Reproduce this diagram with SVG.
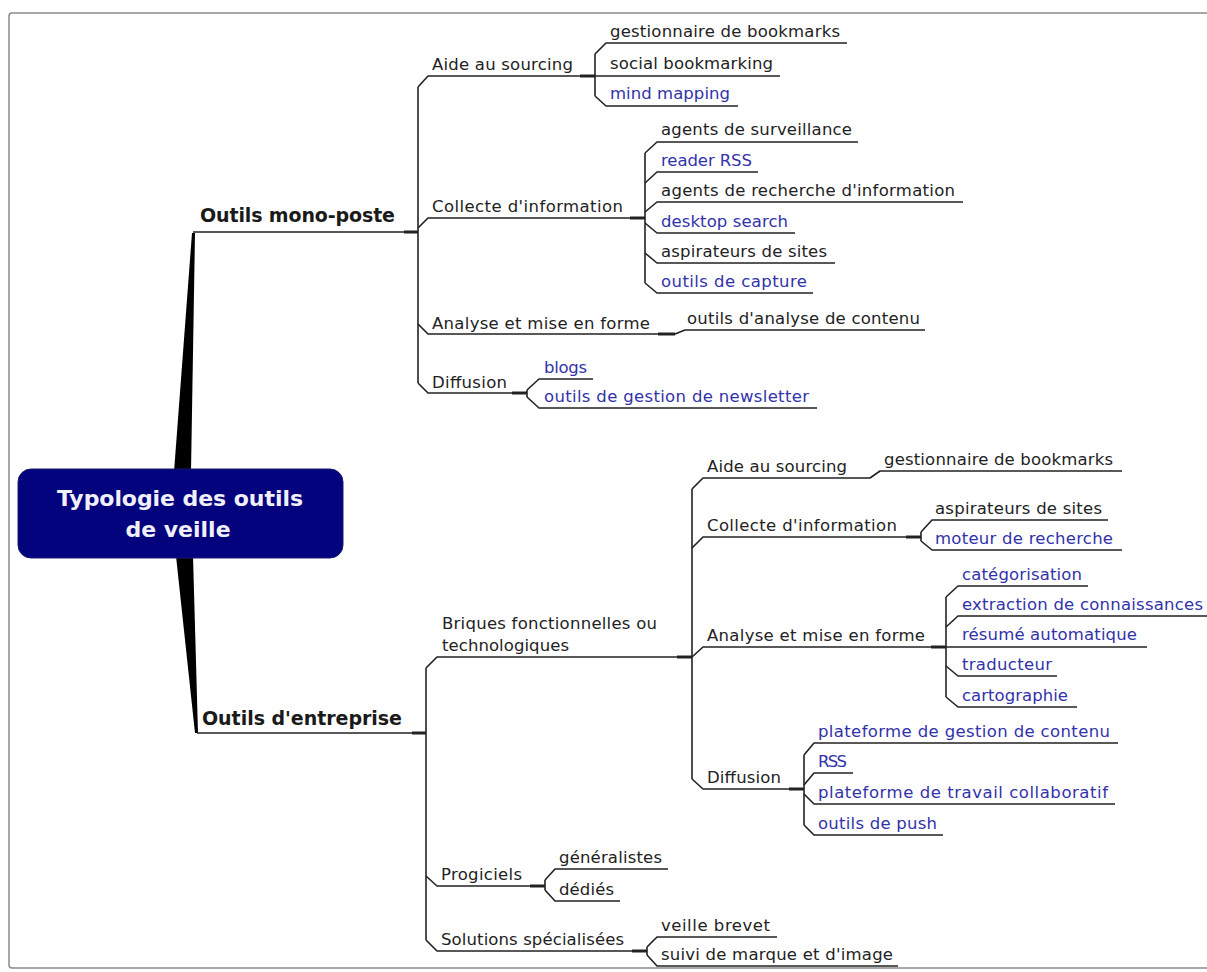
<svg xmlns="http://www.w3.org/2000/svg" width="1207" height="972" viewBox="0 0 1207 972">
<style>
.t{font-family:"DejaVu Sans","Liberation Sans",sans-serif;font-size:16.5px;fill:#222}
.b{fill:#3232aa}
.big{font-family:"DejaVu Sans","Liberation Sans",sans-serif;font-size:19px;font-weight:bold;fill:#1a1a1a}
.root{font-family:"DejaVu Sans","Liberation Sans",sans-serif;font-size:22px;font-weight:bold;fill:#f0f0f8}
.ln{fill:none;stroke:#222;stroke-width:1.6;stroke-linejoin:round}
.stub{fill:none;stroke:#222;stroke-width:3}
</style>
<rect x="9" y="13" width="1210" height="955" rx="3" fill="#fff" stroke="#8a8a8a" stroke-width="1.5"/>
<g id="connectors">
<polygon points="174,472 191,472 195,233 192,233" fill="#000"/>
<polygon points="176,556 193,556 198,733 195,733" fill="#000"/>
<path class="ln" d="M193,232 L418,232"/>
<path class="stub" d="M404,232 L418,232"/>
<path class="ln" d="M418,87 L418,383"/>
<path class="ln" d="M418,87 L428,76 L595,76"/>
<path class="stub" d="M580,76 L595,76"/>
<path class="ln" d="M418,228 L428,218 L645,218"/>
<path class="stub" d="M630,218 L645,218"/>
<path class="ln" d="M418,324 L428,334 L675,334 L685,330 L925,330"/>
<path class="stub" d="M658,334 L675,334"/>
<path class="ln" d="M418,383 L428,393 L527,393"/>
<path class="stub" d="M512,393 L527,393"/>
<path class="ln" d="M595,54 L595,96"/>
<path class="ln" d="M595,54 L606,43 L847,43"/>
<path class="ln" d="M595,76 L780,76"/>
<path class="ln" d="M595,96 L606,106 L738,106"/>
<path class="ln" d="M645,153 L645,283"/>
<path class="ln" d="M645,153 L657,142 L858,142"/>
<path class="ln" d="M645,183 L657,172 L758,172"/>
<path class="ln" d="M645,212 L657,202 L963,202"/>
<path class="ln" d="M645,223 L657,233 L795,233"/>
<path class="ln" d="M645,253 L657,263 L835,263"/>
<path class="ln" d="M645,283 L657,293 L813,293"/>
<path class="ln" d="M527,390 L527,397"/>
<path class="ln" d="M527,390 L539,379 L593,379"/>
<path class="ln" d="M527,397 L539,408 L817,408"/>
<path class="ln" d="M197,733 L426,733"/>
<path class="stub" d="M412,733 L426,733"/>
<path class="ln" d="M426,668 L426,940"/>
<path class="ln" d="M426,668 L437,657 L692,657"/>
<path class="stub" d="M677,657 L692,657"/>
<path class="ln" d="M426,876 L437,886 L545,886"/>
<path class="stub" d="M530,886 L545,886"/>
<path class="ln" d="M426,940 L437,951 L647,951"/>
<path class="stub" d="M632,951 L647,951"/>
<path class="ln" d="M692,489 L692,779"/>
<path class="ln" d="M692,489 L703,478 L870,478 L880,471 L1122,471"/>
<path class="ln" d="M692,548 L703,537 L921,537"/>
<path class="stub" d="M906,537 L921,537"/>
<path class="ln" d="M692,657 L703,647 L946,647"/>
<path class="stub" d="M931,647 L946,647"/>
<path class="ln" d="M692,779 L703,789 L804,789"/>
<path class="stub" d="M789,789 L804,789"/>
<path class="ln" d="M545,880 L545,890"/>
<path class="ln" d="M545,880 L555,869 L668,869"/>
<path class="ln" d="M545,890 L555,901 L620,901"/>
<path class="ln" d="M647,947 L647,955"/>
<path class="ln" d="M647,947 L657,937 L777,937"/>
<path class="ln" d="M647,955 L657,966 L898,966"/>
<path class="ln" d="M921,532 L921,541"/>
<path class="ln" d="M921,532 L932,520 L1108,520"/>
<path class="ln" d="M921,541 L932,550 L1122,550"/>
<path class="ln" d="M946,597 L946,697"/>
<path class="ln" d="M946,597 L958,586 L1088,586"/>
<path class="ln" d="M946,627 L958,616 L1207,616"/>
<path class="ln" d="M946,647 L1147,647"/>
<path class="ln" d="M946,666 L958,676 L1057,676"/>
<path class="ln" d="M946,697 L958,707 L1077,707"/>
<path class="ln" d="M804,755 L804,825"/>
<path class="ln" d="M804,755 L814,743 L1118,743"/>
<path class="ln" d="M804,785 L814,773 L853,773"/>
<path class="ln" d="M804,794 L814,804 L1115,804"/>
<path class="ln" d="M804,825 L814,835 L943,835"/>
</g>
<g id="root">
<rect x="18" y="469" width="325" height="89" rx="13" fill="#03037e" stroke="#1a1a70" stroke-width="1"/>
<text class="root" x="180" y="506" text-anchor="middle" textLength="246">Typologie des outils</text>
<text class="root" x="178" y="537" text-anchor="middle">de veille</text>
</g>
<g id="n-mono"><text class="big" x="200" y="222" textLength="195">Outils mono-poste</text></g>
<g id="n-entreprise"><text class="big" x="202" y="725" textLength="200">Outils d'entreprise</text></g>
<g id="n-m-aide"><text class="t" x="432" y="70" textLength="141">Aide au sourcing</text></g>
<g id="n-m-aide-1"><text class="t" x="610" y="37" textLength="230">gestionnaire de bookmarks</text></g>
<g id="n-m-aide-2"><text class="t" x="610" y="69" textLength="163">social bookmarking</text></g>
<g id="n-m-aide-3"><text class="t b" x="610" y="99" textLength="120">mind mapping</text></g>
<g id="n-m-collecte"><text class="t" x="432" y="212" textLength="191">Collecte d'information</text></g>
<g id="n-m-col-1"><text class="t" x="661" y="135" textLength="191">agents de surveillance</text></g>
<g id="n-m-col-2"><text class="t b" x="661" y="166" textLength="91">reader RSS</text></g>
<g id="n-m-col-3"><text class="t" x="661" y="196" textLength="294">agents de recherche d'information</text></g>
<g id="n-m-col-4"><text class="t b" x="661" y="227" textLength="127">desktop search</text></g>
<g id="n-m-col-5"><text class="t" x="661" y="257" textLength="166">aspirateurs de sites</text></g>
<g id="n-m-col-6"><text class="t b" x="661" y="287" textLength="146">outils de capture</text></g>
<g id="n-m-analyse"><text class="t" x="432" y="329" textLength="218">Analyse et mise en forme</text></g>
<g id="n-m-ana-1"><text class="t" x="687" y="324" textLength="233">outils d'analyse de contenu</text></g>
<g id="n-m-diffusion"><text class="t" x="432" y="388" textLength="75">Diffusion</text></g>
<g id="n-m-dif-1"><text class="t b" x="544" y="373" textLength="43">blogs</text></g>
<g id="n-m-dif-2"><text class="t b" x="544" y="402" textLength="265">outils de gestion de newsletter</text></g>
<g id="n-e-briques"><text class="t" x="442" y="629" textLength="215">Briques fonctionnelles ou</text><text class="t" x="442" y="651" textLength="127">technologiques</text></g>
<g id="n-e-aide"><text class="t" x="707" y="472" textLength="140">Aide au sourcing</text></g>
<g id="n-e-aide-1"><text class="t" x="884" y="465" textLength="229">gestionnaire de bookmarks</text></g>
<g id="n-e-collecte"><text class="t" x="707" y="531" textLength="190">Collecte d'information</text></g>
<g id="n-e-col-1"><text class="t" x="935" y="514" textLength="167">aspirateurs de sites</text></g>
<g id="n-e-col-2"><text class="t b" x="935" y="544" textLength="178">moteur de recherche</text></g>
<g id="n-e-analyse"><text class="t" x="707" y="641" textLength="218">Analyse et mise en forme</text></g>
<g id="n-e-ana-1"><text class="t b" x="962" y="580" textLength="120">catégorisation</text></g>
<g id="n-e-ana-2"><text class="t b" x="962" y="610" textLength="241">extraction de connaissances</text></g>
<g id="n-e-ana-3"><text class="t b" x="962" y="640" textLength="175">résumé automatique</text></g>
<g id="n-e-ana-4"><text class="t b" x="962" y="670" textLength="90">traducteur</text></g>
<g id="n-e-ana-5"><text class="t b" x="962" y="701" textLength="106">cartographie</text></g>
<g id="n-e-diffusion"><text class="t" x="707" y="783" textLength="74">Diffusion</text></g>
<g id="n-e-dif-1"><text class="t b" x="818" y="737" textLength="292">plateforme de gestion de contenu</text></g>
<g id="n-e-dif-2"><text class="t b" x="818" y="767" textLength="29">RSS</text></g>
<g id="n-e-dif-3"><text class="t b" x="818" y="798" textLength="290">plateforme de travail collaboratif</text></g>
<g id="n-e-dif-4"><text class="t b" x="818" y="829" textLength="119">outils de push</text></g>
<g id="n-e-progiciels"><text class="t" x="441" y="880" textLength="81">Progiciels</text></g>
<g id="n-e-pro-1"><text class="t" x="559" y="863" textLength="103">généralistes</text></g>
<g id="n-e-pro-2"><text class="t" x="559" y="895" textLength="55">dédiés</text></g>
<g id="n-e-solutions"><text class="t" x="441" y="945" textLength="183">Solutions spécialisées</text></g>
<g id="n-e-sol-1"><text class="t" x="661" y="931" textLength="109">veille brevet</text></g>
<g id="n-e-sol-2"><text class="t" x="661" y="960" textLength="232">suivi de marque et d'image</text></g>
</svg>
